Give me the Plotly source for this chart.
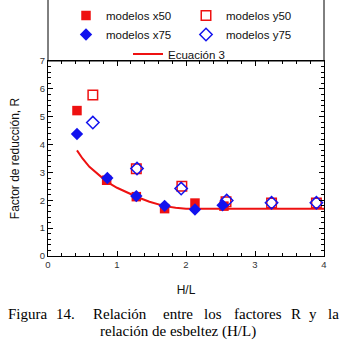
import plotly.graph_objects as go

# ---- data ----
x50_x = [0.42, 0.85, 1.28, 1.69, 2.13, 2.55]
x50_y = [5.22, 2.72, 2.13, 1.70, 1.90, 1.79]

y50_x = [0.65, 1.28, 1.94, 2.58, 3.24, 3.89]
y50_y = [5.78, 3.13, 2.50, 1.95, 1.90, 1.90]

x75_x = [0.42, 0.86, 1.28, 1.69, 2.13, 2.53]
x75_y = [4.38, 2.80, 2.15, 1.80, 1.67, 1.82]

y75_x = [0.65, 1.29, 1.93, 2.59, 3.24, 3.89]
y75_y = [4.79, 3.14, 2.42, 1.99, 1.91, 1.91]

eq_x = [0.42, 0.5, 0.6, 0.7, 0.85, 1.0, 1.15, 1.3, 1.47, 1.69, 1.85, 2.0, 4.0]
eq_y = [3.79, 3.50, 3.20, 2.98, 2.67, 2.45, 2.27, 2.11, 1.95, 1.79, 1.73, 1.70, 1.70]

x_ticks = [0, 1, 2, 3, 4]
y_ticks = [0, 1, 2, 3, 4, 5, 6, 7]

caption1_words = ["Figura", "14.", "Relación", "entre", "los", "factores", "R", "y", "la"]
caption1_px = [28, 65, 120, 178, 213, 258, 296, 313, 333]
caption2 = "relación de esbeltez (H/L)"

RED = "#ee1111"
BLUE = "#1212ee"

W, H = 356, 347
L, R, T, B = 48, 32, 61, 91
PW, PH = W - L - R, H - T - B

def px_x(p):
    return (p - L) / PW

def px_y(p):
    return (H - B - p) / PH

fig = go.Figure()

fig.add_trace(go.Scatter(x=eq_x, y=eq_y, mode="lines", name="Ecuación 3",
                         line=dict(color=RED, width=2), legend="legend2"))
fig.add_trace(go.Scatter(x=x50_x, y=x50_y, mode="markers", name="modelos x50",
                         marker=dict(symbol="square", size=9.5, color=RED)))
fig.add_trace(go.Scatter(x=y50_x, y=y50_y, mode="markers", name="modelos y50",
                         marker=dict(symbol="square-open", size=9.5, color=RED,
                                     line=dict(width=1.5, color=RED))))
fig.add_trace(go.Scatter(x=x75_x, y=x75_y, mode="markers", name="modelos x75",
                         marker=dict(symbol="diamond", size=9.5, color=BLUE)))
fig.add_trace(go.Scatter(x=y75_x, y=y75_y, mode="markers", name="modelos y75",
                         marker=dict(symbol="diamond-open", size=9.5, color=BLUE,
                                     line=dict(width=1.5, color=BLUE))))

axis_common = dict(
    showgrid=False, zeroline=False, showline=True, linecolor="black", linewidth=1,
    mirror="allticks", ticks="inside", ticklen=5, tickwidth=1, tickcolor="black",
    automargin=False,
    tickfont=dict(family="Liberation Sans, Arial", size=9.5, color="#333"),
)

fig.update_xaxes(range=[0, 4], tickvals=x_ticks, ticktext=[str(v) for v in x_ticks],
                 minor=dict(dtick=0.2, ticks="inside", ticklen=3, tickcolor="black"),
                 title=dict(text="H/L", font=dict(family="Liberation Sans, Arial", size=12, color="#111"),
                            standoff=16),
                 **axis_common)
fig.update_yaxes(range=[0, 7], tickvals=y_ticks, ticktext=[str(v) for v in y_ticks],
                 minor=dict(dtick=0.2, ticks="inside", ticklen=3, tickcolor="black"),
                 title=dict(text="Factor de reducción, R",
                            font=dict(family="Liberation Sans, Arial", size=12, color="#111"),
                            standoff=17),
                 **axis_common)

# legend frame
fig.add_shape(type="rect", xref="paper", yref="paper", x0=0, x1=1, y0=1, y1=px_y(-5),
              line=dict(color="black", width=1), fillcolor="rgba(0,0,0,0)", layer="above")

ann = []
for w, p in zip(caption1_words, caption1_px):
    ann.append(dict(text=w, x=px_x(p), y=px_y(314), xref="paper", yref="paper",
                    xanchor="center", yanchor="middle", showarrow=False,
                    font=dict(family="Liberation Serif, Times New Roman", size=15, color="black")))
ann.append(dict(text=caption2, x=px_x(178), y=px_y(331), xref="paper", yref="paper",
                xanchor="center", yanchor="middle", showarrow=False,
                font=dict(family="Liberation Serif, Times New Roman", size=15, color="black")))

fig.update_layout(
    width=W, height=H, margin=dict(l=L, r=R, t=T, b=B, autoexpand=False),
    paper_bgcolor="white", plot_bgcolor="white",
    annotations=ann,
    legend=dict(orientation="h", x=px_x(66), y=px_y(1), xanchor="left", yanchor="top",
                entrywidth=75, entrywidthmode="pixels", bgcolor="rgba(0,0,0,0)",
                font=dict(family="Liberation Sans, Arial", size=11.5, color="#111"),
                tracegroupgap=0, itemsizing="trace"),
    legend2=dict(orientation="h", x=px_x(128), y=px_y(39.5), xanchor="left", yanchor="top",
                 bgcolor="rgba(0,0,0,0)",
                 font=dict(family="Liberation Sans, Arial", size=11.5, color="#111")),
    showlegend=True,
)

fig.write_html("out.html", config={"displayModeBar": False},
               post_script="document.body.style.margin='0px';")
